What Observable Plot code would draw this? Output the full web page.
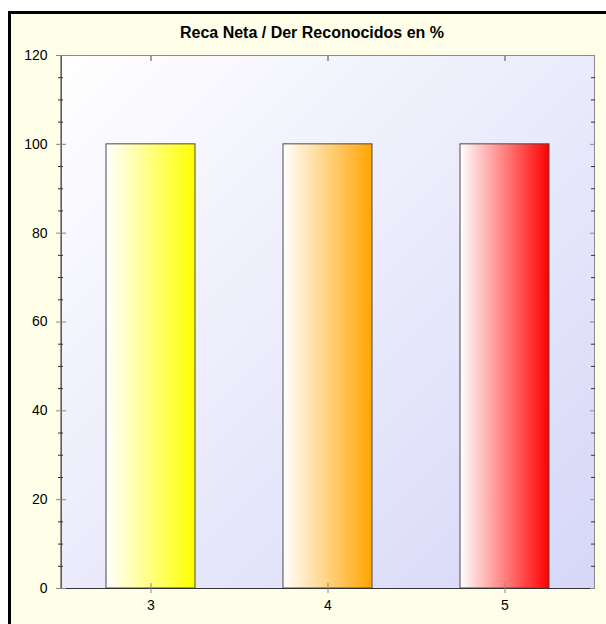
<!DOCTYPE html>
<html>
<head>
<meta charset="utf-8">
<script src="https://cdn.jsdelivr.net/npm/d3@7"></script>
<script src="https://cdn.jsdelivr.net/npm/@observablehq/plot@0.6"></script>
<style>
  html, body { margin: 0; padding: 0; background: #fff; overflow: hidden; }
  #wrap { position: relative; width: 606px; height: 624px; overflow: hidden; }
  #frame { position: absolute; left: 8px; top: 11px; width: 620px; height: 640px;
           border: 3px solid #000; background: #FFFFE9; box-sizing: border-box; }
  #title { position: absolute; left: 0; top: 24px; width: 624px; text-align: center;
           font: bold 16px "Liberation Sans", Arial, sans-serif; color: #000; }
  #chart { position: absolute; left: 0; top: 0; }
</style>
</head>
<body>
<div id="wrap">
  <div id="frame"></div>
  <div id="title">Reca Neta / Der Reconocidos en %</div>
  <div id="chart"></div>
</div>
<script>
const categories = ["3", "4", "5"];
const values = [100, 100, 100];
const barColors = ["#FFFF00", "#FFA500", "#FF0000"];
const yTicks = [0, 20, 40, 60, 80, 100, 120];
const yMinor = [5, 10, 15, 25, 30, 35, 45, 50, 55, 65, 70, 75, 85, 90, 95, 105, 110, 115];

const table = categories.map((c, i) => ({cat: c, value: values[i], grad: `url(#bar-${c})`}));

function defsMark() {
  const defs = d3.create("svg:defs");
  const bg = defs.append("linearGradient").attr("id", "plotbg")
    .attr("x1", 0).attr("y1", 0).attr("x2", 1).attr("y2", 1);
  bg.append("stop").attr("offset", "0%").attr("stop-color", "#FFFFFF");
  bg.append("stop").attr("offset", "100%").attr("stop-color", "#D6D6F8");
  categories.forEach((c, i) => {
    const g = defs.append("linearGradient").attr("id", `bar-${c}`)
      .attr("x1", 0).attr("y1", 0).attr("x2", 1).attr("y2", 0);
    g.append("stop").attr("offset", "0%").attr("stop-color", "#FFFFFF");
    g.append("stop").attr("offset", "100%").attr("stop-color", barColors[i]);
  });
  return defs.node();
}

function leftLine(index, scales, values, dims) {
  const x = dims.marginLeft;
  return d3.create("svg:line")
    .attr("x1", x).attr("x2", x)
    .attr("y1", dims.marginTop).attr("y2", dims.height - dims.marginBottom)
    .attr("stroke", "#333").node();
}

const chart = Plot.plot({
  width: 606,
  height: 624,
  marginLeft: 61,
  marginRight: 12,
  marginTop: 55,
  marginBottom: 36,
  style: {background: "transparent", fontFamily: "'Liberation Sans', Arial, sans-serif", fontSize: "14px", color: "#000"},
  x: {domain: categories, paddingInner: 0.5, paddingOuter: 0.25, label: null},
  y: {domain: [0, 120], label: null},
  color: {type: "identity"},
  marks: [
    defsMark,
    Plot.frame({fill: "url(#plotbg)", stroke: "#8a8a8a"}),
    Plot.barY(table, {x: "cat", y: "value", fill: "grad", stroke: "#4a4a4a"}),
    Plot.ruleY([0], {stroke: "#333"}),
    leftLine,
    Plot.axisY(yTicks, {anchor: "left", tickSize: 0, tickPadding: 14, fontSize: 14, label: null}),
    Plot.axisY(yTicks, {anchor: "left", tickSize: 10, dx: 5, text: null, stroke: "#888", label: null}),
    Plot.axisY(yMinor, {anchor: "left", tickSize: 5, dx: 2, text: null, stroke: "#333", label: null}),
    Plot.axisY(yTicks, {anchor: "right", tickSize: 5, dx: -5, text: null, stroke: "#888", label: null}),
    Plot.axisY(yMinor, {anchor: "right", tickSize: 4, dx: -4, text: null, stroke: "#333", label: null}),
    Plot.axisX({anchor: "bottom", tickSize: 0, tickPadding: 12, fontSize: 14, label: null}),
    Plot.axisX({anchor: "bottom", tickSize: 10, dy: -5, text: null, stroke: "#888", label: null}),
    Plot.axisX({anchor: "top", tickSize: 5, dy: 5, text: null, stroke: "#444", label: null})
  ]
});
document.getElementById("chart").appendChild(chart);
</script>
</body>
</html>
